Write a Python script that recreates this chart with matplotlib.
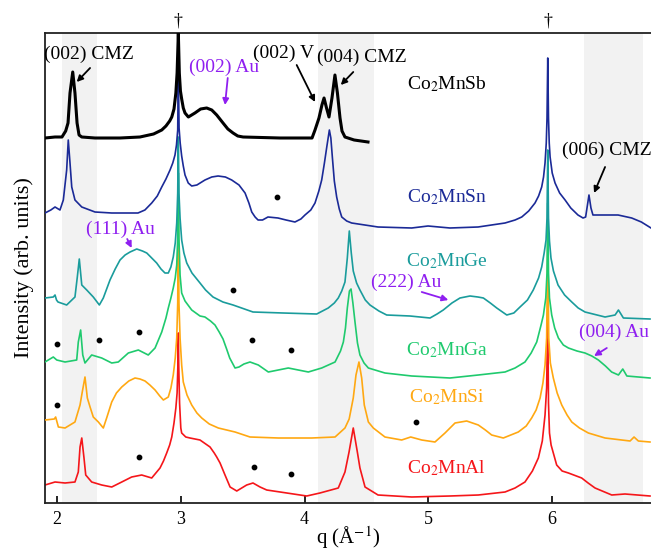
import matplotlib
matplotlib.use("Agg")
import matplotlib.pyplot as plt

plt.rcParams['font.family'] = ['Liberation Serif', 'DejaVu Serif']
plt.rcParams['mathtext.fontset'] = 'stix'

# ---------------- data (q in 1/Angstrom, intensity in arb. units incl. stacking offset) -----
q_sb = [1.903, 1.984, 2.040, 2.070, 2.089, 2.105, 2.127, 2.145, 2.162, 2.178, 2.200, 2.307,
        2.509, 2.670, 2.780, 2.846, 2.880, 2.910, 2.927, 2.945, 2.960, 2.970, 2.980, 2.988,
        2.997, 3.007, 3.020, 3.034, 3.061, 3.114, 3.160, 3.209, 3.250, 3.290, 3.341, 3.380,
        3.422, 3.460, 3.503, 3.801, 4.060, 4.084, 4.116, 4.140, 4.157, 4.177, 4.197, 4.221,
        4.245, 4.265, 4.286, 4.302, 4.326, 4.400, 4.512]
i_sb = [365, 366, 366, 372, 380, 410, 431, 410, 380, 368, 366, 365,
        365, 366, 369, 373, 377, 382, 386, 394, 410, 430, 470, 430,
        412, 404, 395, 390, 386, 390, 394, 395, 393, 388, 380, 374,
        370, 367, 366, 365, 365, 373, 385, 398, 405, 395, 386, 405,
        428, 410, 385, 372, 366, 363, 361]

q_sn = [1.903, 1.950, 1.984, 2.024, 2.051, 2.078, 2.091, 2.105, 2.119, 2.145,
        2.200, 2.307, 2.442, 2.560, 2.654, 2.710, 2.765, 2.810, 2.846, 2.880,
        2.913, 2.935, 2.953, 2.965, 2.975, 2.980, 2.986, 2.995, 3.007, 3.020,
        3.034, 3.060, 3.088, 3.130, 3.195, 3.250, 3.301, 3.360, 3.411, 3.470,
        3.519, 3.550, 3.573, 3.600, 3.624, 3.660, 3.704, 3.785, 3.850, 3.922,
        3.970, 4.003, 4.050, 4.084, 4.115, 4.138, 4.160, 4.179, 4.200, 4.212,
        4.224, 4.240, 4.259, 4.280, 4.300, 4.340, 4.380, 4.593, 4.865, 4.997,
        5.174, 5.401, 5.619, 5.700, 5.754, 5.810, 5.861, 5.890, 5.915, 5.930,
        5.942, 5.952, 5.958, 5.964, 5.970, 5.976, 5.983, 6.000, 6.023, 6.060,
        6.104, 6.150, 6.208, 6.249, 6.270, 6.281, 6.297, 6.313, 6.329, 6.400,
        6.532, 6.642, 6.720, 6.798]
i_sn = [290, 293, 296, 293, 303, 333, 363, 340, 316, 303,
        296, 291, 290, 290, 290, 293, 300, 307, 316, 324,
        333, 340, 348, 358, 373, 433, 375, 360, 347, 337,
        328, 320, 317, 318, 323, 326, 327, 326, 323, 318,
        310, 300, 291, 286, 283, 283, 286, 285, 283, 281,
        284, 288, 293, 300, 312, 323, 340, 356, 373, 365,
        346, 322, 306, 294, 286, 282, 280, 276, 275, 277,
        275, 276, 280, 283, 286, 292, 300, 307, 316, 326,
        340, 360, 385, 445, 385, 360, 346, 330, 320, 310,
        303, 295, 288, 285, 286, 295, 308, 295, 288, 288,
        288, 285, 281, 275]

q_ge = [1.903, 1.970, 1.984, 1.996, 2.008, 2.078, 2.145, 2.164, 2.180, 2.200,
        2.240, 2.293, 2.342, 2.374, 2.428, 2.470, 2.509, 2.550, 2.590, 2.644,
        2.690, 2.725, 2.765, 2.805, 2.840, 2.872, 2.899, 2.920, 2.939, 2.955,
        2.967, 2.975, 2.980, 2.985, 2.994, 3.007, 3.025, 3.048, 3.090, 3.155,
        3.200, 3.260, 3.340, 3.422, 3.583, 3.826, 4.098, 4.191, 4.240, 4.272,
        4.300, 4.326, 4.345, 4.361, 4.377, 4.393, 4.420, 4.447, 4.490, 4.528,
        4.600, 4.663, 4.851, 5.013, 5.070, 5.120, 5.190, 5.255, 5.336, 5.400,
        5.444, 5.500, 5.552, 5.633, 5.690, 5.740, 5.800, 5.847, 5.890, 5.915,
        5.935, 5.950, 5.958, 5.964, 5.970, 5.978, 5.990, 6.010, 6.047, 6.100,
        6.158, 6.210, 6.265, 6.427, 6.508, 6.535, 6.575, 6.790]
i_ge = [205, 206, 208, 203, 201, 198, 206, 226, 244, 218,
        213, 206, 198, 205, 223, 234, 243, 248, 251, 254,
        252, 250, 245, 240, 234, 230, 230, 236, 246, 260,
        280, 310, 366, 310, 285, 263, 250, 240, 230, 220,
        213, 206, 201, 198, 191, 190, 189, 195, 200, 205,
        212, 221, 245, 272, 250, 232, 220, 213, 203, 198,
        192, 188, 187, 185, 189, 193, 200, 205, 207, 206,
        205, 200, 195, 188, 190, 196, 203, 213, 225, 236,
        250, 263, 285, 353, 285, 262, 245, 232, 218, 208,
        201, 195, 191, 186, 188, 193, 185, 184]

q_ga = [1.903, 1.970, 1.998, 2.065, 2.159, 2.172, 2.191, 2.208, 2.226, 2.280,
        2.361, 2.442, 2.495, 2.576, 2.657, 2.737, 2.792, 2.846, 2.880, 2.899,
        2.920, 2.939, 2.955, 2.967, 2.975, 2.980, 2.985, 2.994, 3.007, 3.034,
        3.088, 3.155, 3.195, 3.240, 3.276, 3.310, 3.341, 3.370, 3.395, 3.438,
        3.470, 3.510, 3.559, 3.626, 3.707, 3.868, 4.030, 4.138, 4.246, 4.290,
        4.313, 4.330, 4.345, 4.362, 4.375, 4.390, 4.407, 4.427, 4.447, 4.480,
        4.515, 4.649, 4.865, 5.174, 5.403, 5.619, 5.700, 5.780, 5.830, 5.875,
        5.910, 5.929, 5.948, 5.958, 5.964, 5.970, 5.978, 5.996, 6.020, 6.050,
        6.090, 6.131, 6.200, 6.265, 6.320, 6.373, 6.430, 6.480, 6.535, 6.570,
        6.603, 6.790]
i_ga = [141, 146, 143, 141, 143, 161, 173, 148, 140, 148,
        145, 140, 141, 150, 153, 148, 155, 171, 185, 195,
        205, 215, 225, 238, 265, 330, 265, 228, 210, 202,
        193, 187, 186, 182, 178, 171, 164, 154, 145, 135,
        136, 139, 141, 138, 131, 135, 131, 135, 141, 152,
        161, 175, 195, 212, 214, 200, 181, 160, 148, 140,
        135, 130, 127, 125, 128, 131, 135, 141, 150, 161,
        178, 188, 205, 230, 300, 230, 205, 188, 175, 165,
        158, 155, 152, 150, 147, 143, 137, 131, 128, 134,
        127, 125]

q_si = [1.903, 1.978, 1.989, 2.011, 2.065, 2.145, 2.186, 2.204, 2.226, 2.245,
        2.267, 2.293, 2.334, 2.374, 2.401, 2.442, 2.480, 2.523, 2.580, 2.630,
        2.670, 2.711, 2.750, 2.792, 2.830, 2.859, 2.899, 2.920, 2.939, 2.955,
        2.967, 2.975, 2.980, 2.985, 2.994, 3.007, 3.020, 3.050, 3.088, 3.130,
        3.169, 3.230, 3.303, 3.438, 3.559, 3.788, 4.057, 4.246, 4.326, 4.360,
        4.393, 4.415, 4.439, 4.461, 4.482, 4.515, 4.555, 4.649, 4.784, 4.857,
        4.946, 5.053, 5.134, 5.215, 5.309, 5.403, 5.460, 5.511, 5.605, 5.726,
        5.790, 5.834, 5.870, 5.902, 5.925, 5.942, 5.955, 5.964, 5.972, 5.985,
        6.009, 6.040, 6.077, 6.120, 6.158, 6.220, 6.292, 6.427, 6.629, 6.661,
        6.696, 6.790]
i_si = [83, 84, 86, 76, 75, 81, 98, 111, 126, 105,
        96, 86, 81, 75, 85, 101, 110, 116, 122, 125,
        124, 122, 118, 113, 107, 103, 106, 115, 128, 145,
        165, 200, 290, 200, 165, 138, 121, 108, 98, 90,
        85, 79, 75, 71, 66, 65, 65, 66, 75, 84,
        105, 128, 141, 125, 98, 81, 75, 66, 63, 66,
        63, 61, 70, 80, 82, 78, 73, 68, 65, 71,
        77, 85, 93, 105, 120, 138, 165, 260, 165, 140,
        125, 110, 98, 88, 81, 75, 70, 65, 62, 66,
        62, 61]

q_al = [1.903, 1.984, 2.065, 2.145, 2.172, 2.186, 2.200, 2.218, 2.232, 2.280,
        2.361, 2.442, 2.523, 2.603, 2.684, 2.765, 2.832, 2.860, 2.886, 2.910,
        2.927, 2.945, 2.960, 2.970, 2.977, 2.980, 2.983, 2.990, 3.000, 3.007,
        3.040, 3.074, 3.155, 3.236, 3.270, 3.290, 3.317, 3.357, 3.398, 3.452,
        3.532, 3.583, 3.640, 3.694, 3.856, 4.017, 4.124, 4.272, 4.326, 4.359,
        4.393, 4.426, 4.447, 4.488, 4.593, 4.865, 5.174, 5.403, 5.619, 5.700,
        5.780, 5.840, 5.888, 5.920, 5.942, 5.955, 5.964, 5.970, 5.978, 5.991,
        6.036, 6.080, 6.131, 6.238, 6.290, 6.346, 6.481, 6.588, 6.790]
i_al = [18, 21, 20, 21, 31, 56, 65, 45, 28, 21,
        18, 16, 21, 26, 28, 25, 35, 42, 50, 58,
        66, 80, 95, 110, 140, 170, 140, 100, 75, 70,
        66, 65, 63, 56, 50, 46, 40, 28, 16, 12,
        18, 20, 16, 13, 10, 7, 10, 15, 31, 51,
        75, 51, 35, 16, 8, 6, 7, 8, 11, 15,
        21, 32, 45, 62, 88, 115, 190, 100, 70, 58,
        38, 32, 30, 25, 20, 15, 8, 9, 7]

curves = [
    (q_al, i_al, '#f5161a', 1.2),
    (q_si, i_si, '#ffa812', 1.2),
    (q_ga, i_ga, '#1fca6e', 1.2),
    (q_ge, i_ge, '#1a9c9c', 1.2),
    (q_sn, i_sn, '#1b2a97', 1.2),
    (q_sb, i_sb, '#000000', 2.2),
]

sample_names = ['Co$_2$MnSb', 'Co$_2$MnSn', 'Co$_2$MnGe', 'Co$_2$MnGa', 'Co$_2$MnSi', 'Co$_2$MnAl']
sample_colors = ['#000000', '#1b2a97', '#1a9c9c', '#1fca6e', '#ffa812', '#f5161a']
sample_label_y = [419, 306, 242, 153, 106, 35]

dot_q = [3.777, 3.424, 2.002, 2.342, 2.662, 3.573, 3.890, 2.002, 2.662, 3.591, 3.890, 4.900]
dot_i = [306, 213, 159, 163, 171, 163, 153, 98, 46, 36, 29, 81]

bands = [(2.04, 2.32), (4.11, 4.56), (6.26, 6.73)]
substrate_q = [2.977, 5.966]
xticks = [2, 3, 4, 5, 6]

# ---------------- figure ----------------
fig = plt.figure(figsize=(6.51, 5.52), dpi=100)
ax = fig.add_axes([45/651, 49/552, 606/651, 470/552])
ax.set_xlim(1.903, 6.798)
ax.set_ylim(0, 470)

for a, b in bands:
    ax.axvspan(a, b, color='#f2f2f2', zorder=0, lw=0)

for k, (q, i, c, lw) in enumerate(curves):
    ax.plot(q, i, color=c, lw=lw, zorder=2 + k, solid_joinstyle='round')

ax.scatter(dot_q, dot_i, s=10, color='black', zorder=10)

for name, col, yy in zip(sample_names, sample_colors, sample_label_y):
    ax.text(5.15, yy, name, color=col, fontsize=14, ha='center', va='center', zorder=11)

black_ann = [
    ('(002) CMZ', (2.258, 449), (2.267, 435), (2.159, 421)),
    ('(002) V', (3.826, 450), (3.936, 438), (4.084, 401)),
    ('(004) CMZ', (4.464, 446), (4.393, 431), (4.292, 418)),
    ('(006) CMZ', (6.443, 353), (6.427, 336), (6.338, 310)),
]
purple_ann = [
    ('(002) Au', (3.349, 436), (3.379, 425), (3.357, 398)),
    ('(111) Au', (2.509, 274), (2.567, 264), (2.603, 255)),
    ('(222) Au', (4.819, 221), (4.946, 211), (5.161, 203)),
    ('(004) Au', (6.500, 171), (6.441, 155), (6.338, 147)),
]
for anns, col in [(black_ann, 'black'), (purple_ann, '#8f1ff0')]:
    for txt, pos, tail, head in anns:
        ax.text(pos[0], pos[1], txt, color=col, fontsize=14, ha='center', va='center',
                zorder=12, clip_on=False)
        ax.annotate('', xy=head, xytext=tail, zorder=12,
                    arrowprops=dict(arrowstyle='-|>', color=col, lw=1.3,
                                    mutation_scale=9, shrinkA=0, shrinkB=0))

for sq in substrate_q:
    ax.text(sq, 482, '\u2020', fontsize=13, ha='center', va='center', clip_on=False)

ax.set_xticks(xticks)
ax.set_xticklabels([str(t) for t in xticks], fontsize=13)
ax.set_yticks([])
ax.tick_params(axis='x', direction='in', length=5, width=1.2, pad=6, top=False)
for side in ['left', 'bottom', 'top']:
    ax.spines[side].set_linewidth(1.3)
    ax.spines[side].set_color('#222222')
ax.spines['right'].set_visible(False)

ax.set_xlabel('q (Å$^{-1}$)', fontsize=15, labelpad=-3)
ax.set_ylabel('Intensity (arb. units)', fontsize=16, labelpad=8)

fig.savefig('out.png', dpi=100)
